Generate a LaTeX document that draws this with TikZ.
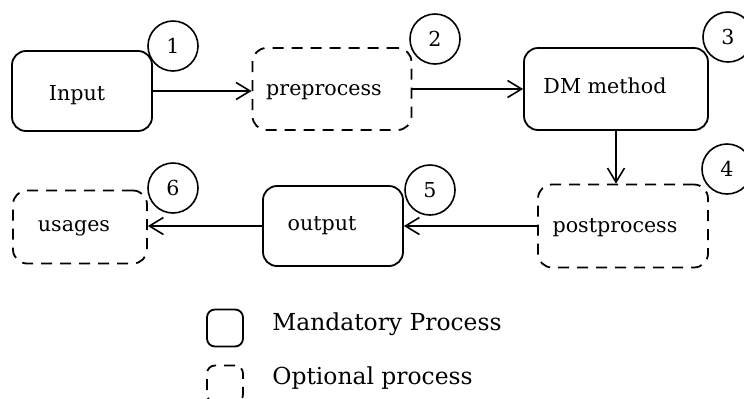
\documentclass[tikz,border=0pt]{standalone}
\usepackage{fontspec}
\setmainfont{DejaVu Serif}
\usetikzlibrary{arrows.meta}
\tikzset{
  box/.style={draw, line width=0.9pt, rounded corners=7pt, inner sep=0pt},
  mandbox/.style={box},
  optbox/.style={box, dash pattern=on 5.5pt off 4pt},
  lbl/.style={font=\fontsize{10.3}{12}\selectfont, inner sep=0pt, xshift=-4pt,
    text height=1.6ex, text depth=0.3ex},
  numcirc/.style={draw, circle, line width=0.8pt, minimum size=25pt, inner sep=0pt,
    font=\fontsize{10.3}{12}\selectfont},
  flow/.style={line width=0.8pt, -{Straight Barb[length=7pt,width=8.5pt]}},
  legtext/.style={anchor=west, inner sep=0pt, font=\fontsize{11.7}{14}\selectfont}
}
\begin{document}
\begin{tikzpicture}[x=0.5pt, y=-0.5pt]
\useasboundingbox (0,0) rectangle (744,398);
\clip (0,0) rectangle (744,398);

% process steps, labels sit a little left of centre
\node[mandbox, minimum width=70pt, minimum height=40pt,
  label={[lbl, xshift=1.5pt, yshift=-1.5pt]center:Input}] (input) at (82,91) {};
\node[optbox, minimum width=79.5pt, minimum height=41pt,
  label={[lbl]center:preprocess}] (pre) at (332,89) {};
\node[mandbox, minimum width=92pt, minimum height=41pt,
  label={[lbl, xshift=-1.5pt, yshift=1pt]center:DM method}] (dm) at (616,89) {};
\node[optbox, minimum width=85pt, minimum height=41.5pt,
  label={[lbl]center:postprocess}] (post) at (623,226) {};
\node[mandbox, minimum width=70pt, minimum height=40pt,
  label={[lbl, xshift=-1.5pt, yshift=1pt]center:output}] (out) at (333,226) {};
\node[optbox, minimum width=67pt, minimum height=36.5pt,
  label={[lbl, xshift=1pt, yshift=1pt]center:usages}] (use) at (80,227) {};

% step numbers
\node[numcirc] (n1) at (173,46) {1};
\node[numcirc] (n2) at (435,39) {2};
\node[numcirc] (n3) at (728,37) {3};
\node[numcirc] (n4) at (727,169) {4};
\node[numcirc] (n5) at (430,190) {5};
\node[numcirc] (n6) at (173,188) {6};

% flow between steps
\draw[flow] (input.east) -- (input.east -| pre.west);
\draw[flow] (pre.east) -- (pre.east -| dm.west);
\draw[flow] (dm.south) -- (dm.south |- post.north);
\draw[flow] (post.west) -- (post.west -| out.east);
\draw[flow] (out.west) -- (out.west -| use.east);

% legend
\node[mandbox, minimum width=18pt, minimum height=18.5pt, rounded corners=4pt] (lm) at (225,328) {};
\node[legtext] (lmt) at (272,324) {Mandatory Process};
\node[optbox, minimum width=18pt, minimum height=18.5pt, rounded corners=4pt] (lo) at (225,384) {};
\node[legtext] (lot) at (272,378) {Optional process};
\end{tikzpicture}
\end{document}
